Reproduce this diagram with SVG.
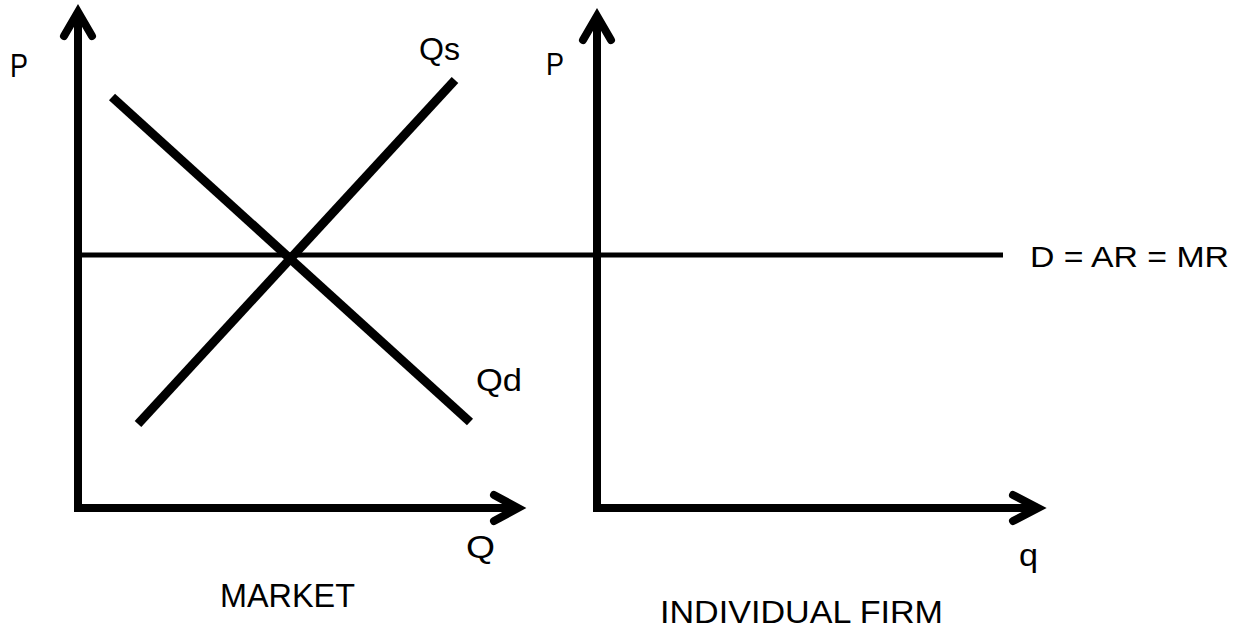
<svg xmlns="http://www.w3.org/2000/svg" width="1244" height="631" viewBox="0 0 1244 631">
<style>
.axis{stroke:#000;stroke-width:8;fill:none;stroke-linecap:butt}
.head{stroke:#000;stroke-width:8;fill:none;stroke-linecap:round;stroke-linejoin:miter}
.curve{stroke:#000;stroke-width:9;fill:none}
.price{stroke:#000;stroke-width:5;fill:none}
text{font-family:"Liberation Sans",Arial,sans-serif;fill:#000}
</style>
<rect width="1244" height="631" fill="#fff"/>
<g id="connectors">
<g id="market-axes">
<path class="axis" d="M78 508V12"/>
<path class="head" d="M64 36L78 12L92 36"/>
<path class="axis" d="M74 508H516"/>
<path class="head" d="M494 495L518 508L494 521"/>
</g>
<g id="firm-axes">
<path class="axis" d="M597 508V16"/>
<path class="head" d="M583 40L597 16L611 40"/>
<path class="axis" d="M593 508H1036"/>
<path class="head" d="M1013 495L1038 508L1013 521"/>
</g>
<path id="price-line" class="price" d="M78 255H1003"/>
<path id="demand" class="curve" d="M112 97L470 422"/>
<path id="supply" class="curve" d="M138 424L455 80"/>
</g>
<g id="labels">
<text x="10" y="77" font-size="33" textLength="18" lengthAdjust="spacingAndGlyphs">P</text>
<text x="419" y="60" font-size="32" textLength="41" lengthAdjust="spacingAndGlyphs">Qs</text>
<text x="546" y="75" font-size="32" textLength="18" lengthAdjust="spacingAndGlyphs">P</text>
<text x="1030" y="267" font-size="30" textLength="199" lengthAdjust="spacingAndGlyphs">D = AR = MR</text>
<text x="476" y="391" font-size="32" textLength="46" lengthAdjust="spacingAndGlyphs">Qd</text>
<text x="466" y="558" font-size="32" textLength="29" lengthAdjust="spacingAndGlyphs">Q</text>
<text x="1019" y="566" font-size="32" textLength="19" lengthAdjust="spacingAndGlyphs">q</text>
<text x="220" y="607" font-size="33" textLength="135" lengthAdjust="spacingAndGlyphs">MARKET</text>
<text x="660" y="623" font-size="32" textLength="283" lengthAdjust="spacingAndGlyphs">INDIVIDUAL FIRM</text>
</g>
</svg>
